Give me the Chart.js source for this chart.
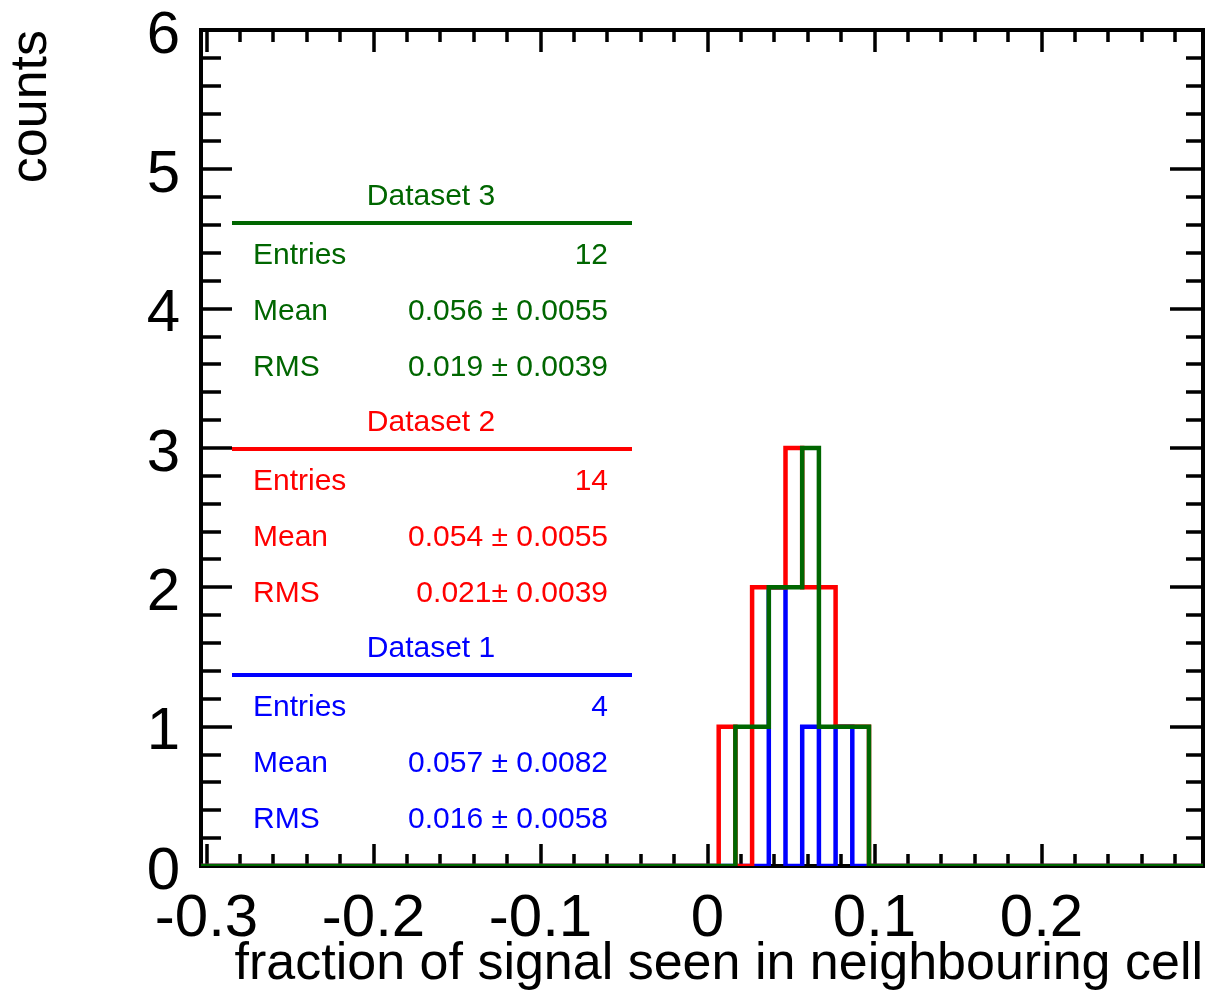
<!DOCTYPE html>
<html>
<head>
<meta charset="utf-8">
<script src="https://cdn.jsdelivr.net/npm/chart.js@4.4.1/dist/chart.umd.min.js"></script>
<style>
  html, body { margin: 0; padding: 0; background: #fff; }
  canvas { display: block; }
</style>
</head>
<body>
<canvas id="fractionChart" width="1211" height="996"></canvas>
<script>
// histogram binning: 0.01 wide bins, edges offset from the axis range
const binEdges = [0.0067, 0.0167, 0.0267, 0.0367, 0.0467, 0.0567, 0.0667, 0.0767, 0.0867, 0.0967];
const countsDataset1 = [0, 0, 0, 2, 0, 1, 0, 1, 0];
const countsDataset2 = [1, 0, 2, 2, 3, 2, 2, 1, 1];
const countsDataset3 = [0, 1, 1, 2, 2, 3, 1, 1, 1];

const xRange = [-0.3033, 0.2967];
const xTickValues = [-0.3, -0.2, -0.1, 0, 0.1, 0.2];
const yTickValues = [0, 1, 2, 3, 4, 5, 6];

// stats boxes, top to bottom
const statTitles = ["Dataset 3", "Dataset 2", "Dataset 1"];
const statEntries = ["12", "14", "4"];
const statMeans = ["0.056 \u00b1 0.0055", "0.054 \u00b1 0.0055", "0.057 \u00b1 0.0082"];
const statRms = ["0.019 \u00b1 0.0039", "0.021\u00b1 0.0039", "0.016 \u00b1 0.0058"];
const statColors = ["#006600", "#ff0000", "#0000ff"];

const FONT = "'Liberation Sans', Arial, Helvetica, sans-serif";

function histPoints(counts) {
  const pts = [{ x: xRange[0], y: 0 }];
  counts.forEach((c, i) => pts.push({ x: binEdges[i], y: c }));
  pts.push({ x: binEdges[binEdges.length - 1], y: 0 });
  pts.push({ x: xRange[1], y: 0 });
  return pts;
}

// frame with inward ticks on all four sides, plus the stats boxes
const framePlugin = {
  id: "frame",
  beforeDatasetsDraw(chart) {
    const { ctx, chartArea: a } = chart;
    const xs = chart.scales.x, ys = chart.scales.y;
    ctx.save();
    ctx.strokeStyle = "#000";
    ctx.lineWidth = 3.5;
    ctx.beginPath();
    for (let k = 0; k <= 29; k++) {
      const px = Math.round(xs.getPixelForValue(-0.3 + 0.02 * k));
      const len = k % 5 === 0 ? 22 : 12;
      ctx.moveTo(px, a.bottom); ctx.lineTo(px, a.bottom - len);
      ctx.moveTo(px, a.top); ctx.lineTo(px, a.top + len);
    }
    for (let k = 0; k <= 30; k++) {
      const py = Math.round(ys.getPixelForValue(k * 0.2));
      const major = k % 5 === 0;
      ctx.moveTo(a.left, py); ctx.lineTo(a.left + (major ? 31 : 20), py);
      ctx.moveTo(a.right, py); ctx.lineTo(a.right - (major ? 33 : 17), py);
    }
    ctx.stroke();
    ctx.lineWidth = 4;
    ctx.strokeRect(a.left, a.top, a.right - a.left, a.bottom - a.top);
    ctx.restore();
  },
  afterDatasetsDraw(chart) {
    const ctx = chart.ctx;
    ctx.save();
    ctx.font = "30px " + FONT;
    ctx.textBaseline = "alphabetic";
    statTitles.forEach((title, i) => {
      const lineY = 223 + 226 * i;
      ctx.fillStyle = statColors[i];
      ctx.strokeStyle = statColors[i];
      ctx.textAlign = "center";
      ctx.fillText(title, 431, lineY - 18);
      ctx.lineWidth = 4;
      ctx.beginPath();
      ctx.moveTo(232, lineY);
      ctx.lineTo(632, lineY);
      ctx.stroke();
      const rows = [["Entries", statEntries[i]], ["Mean", statMeans[i]], ["RMS", statRms[i]]];
      rows.forEach((row, r) => {
        const y = lineY + 41 + 56 * r;
        ctx.textAlign = "left";
        ctx.fillText(row[0], 253, y);
        ctx.textAlign = "right";
        ctx.fillText(row[1], 608, y);
      });
    });
    ctx.restore();
  }
};

new Chart(document.getElementById("fractionChart"), {
  type: "line",
  data: {
    datasets: [
      { label: "Dataset 3", data: histPoints(countsDataset3), borderColor: "#006600" },
      { label: "Dataset 2", data: histPoints(countsDataset2), borderColor: "#ff0000" },
      { label: "Dataset 1", data: histPoints(countsDataset1), borderColor: "#0000ff" }
    ].map(ds => Object.assign(ds, { stepped: true, borderWidth: 4.5, pointRadius: 0, fill: false, tension: 0 }))
  },
  options: {
    responsive: false,
    animation: false,
    devicePixelRatio: 1,
    layout: { padding: { top: 30, right: 8, left: 0, bottom: 0 } },
    plugins: { legend: { display: false }, tooltip: { enabled: false } },
    scales: {
      x: {
        type: "linear",
        min: xRange[0],
        max: xRange[1],
        afterBuildTicks: s => { s.ticks = xTickValues.map(v => ({ value: v })); },
        afterFit: s => { s.height = 130; s.paddingLeft = 0; s.paddingRight = 0; },
        grid: { display: false },
        border: { display: false },
        ticks: {
          autoSkip: false, maxRotation: 0, padding: 9,
          color: "#000", font: { family: FONT, size: 60 },
          callback: v => String(+v.toFixed(1))
        },
        title: {
          display: true, text: "fraction of signal seen in neighbouring cell",
          align: "end", color: "#000", font: { family: FONT, size: 52 }, padding: 0
        }
      },
      y: {
        min: 0,
        max: 6,
        afterBuildTicks: s => { s.ticks = yTickValues.map(v => ({ value: v })); },
        afterFit: s => { s.width = 201; s.paddingTop = 0; s.paddingBottom = 0; },
        grid: { display: false },
        border: { display: false },
        ticks: {
          padding: 13, labelOffset: 6,
          color: "#000", font: { family: FONT, size: 60 }
        },
        title: {
          display: true, text: "counts",
          align: "end", color: "#000", font: { family: FONT, size: 52 }, padding: 0
        }
      }
    }
  },
  plugins: [framePlugin]
});
</script>
</body>
</html>
